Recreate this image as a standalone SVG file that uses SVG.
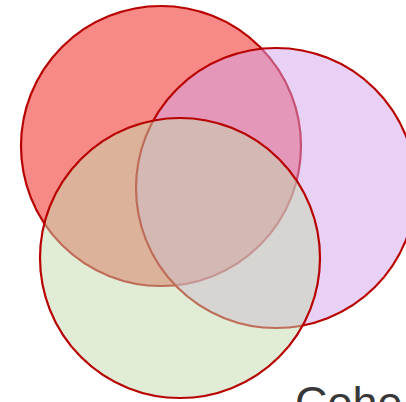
<svg xmlns="http://www.w3.org/2000/svg" width="406" height="402" viewBox="0 0 406 402">
<style>
.set{stroke:#B80000;stroke-width:2.2;fill-opacity:0.5}
.lbl{font-family:"Liberation Sans",Arial,sans-serif;font-size:45px;fill:#383838}
</style>
<rect width="406" height="402" fill="#ffffff"/>
<g id="set-red"><circle class="set" cx="161" cy="146" r="140" fill="#EF1510"/></g>
<g id="set-purple"><circle class="set" cx="276" cy="188" r="140" fill="#D3A3EB"/></g>
<g id="set-green"><circle class="set" cx="180" cy="258" r="140" fill="#C3D9AF"/></g>
<g id="connectors"></g>
<g id="label"><text class="lbl" x="295" y="418">Cohe</text></g>
</svg>
